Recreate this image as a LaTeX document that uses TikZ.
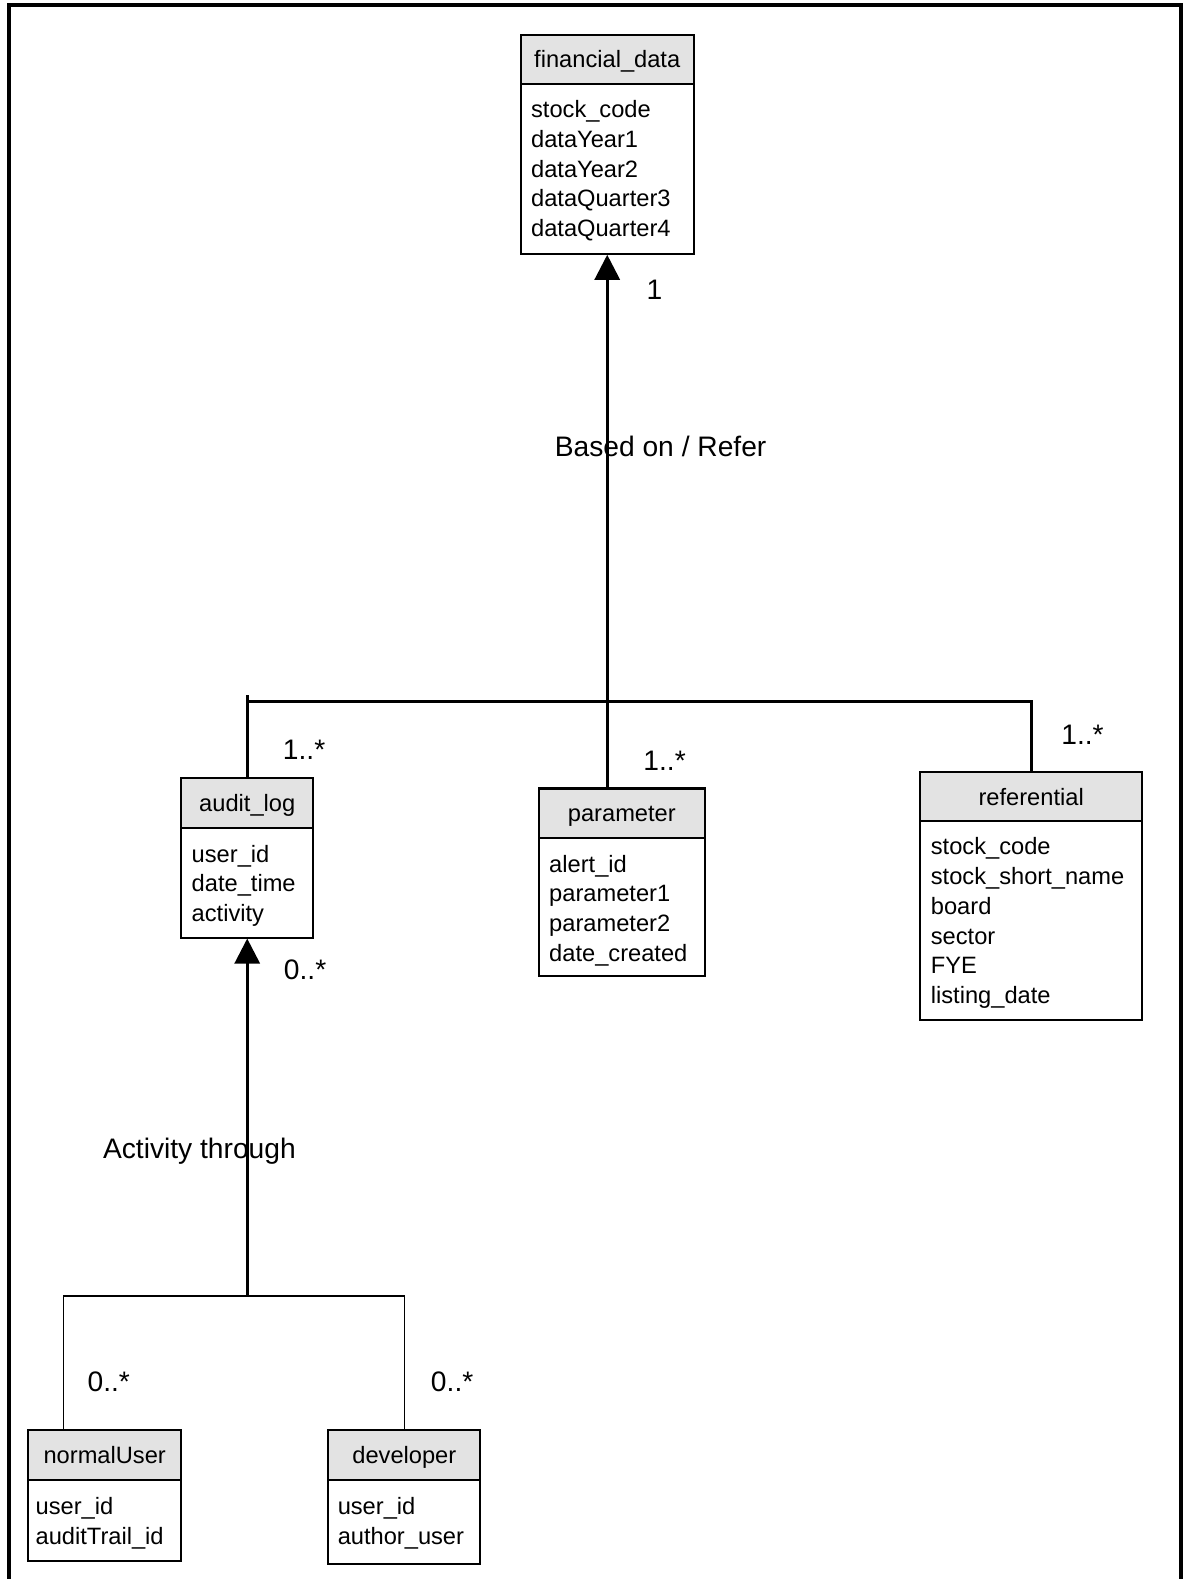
\documentclass[tikz,border=0pt]{standalone}
\usepackage{fontspec}
\setmainfont{Liberation Sans}
\usetikzlibrary{arrows.meta,fit,calc}
\newcommand{\umlclass}[9]{%
  \node[box, fit={(#2,#3) (#4,#5)}] (#1) {};
  \node[head, fit={(#2,#3) (#4,#6)}] (#1h) {};
  \node[cname] (#1t) at ($(#1h.center)+(0,8.5)$) {#7};
  \foreach \aname [count=\i from 0] in {#9} {
    \node[attr] (#1a\i) at (#8, {#6+34+29.5*\i}) {\aname};
  }
}
\begin{document}
\begin{tikzpicture}[x=0.5pt,y=-0.5pt,
  box/.style={draw, line width=1pt, inner sep=0pt},
  head/.style={draw, line width=1pt, inner sep=0pt, fill=gray!22},
  cname/.style={font=\fontsize{11.75}{14}\selectfont, anchor=base, inner sep=0pt},
  attr/.style={font=\fontsize{11.75}{14}\selectfont, anchor=base west, inner sep=0pt},
  lbl/.style={font=\fontsize{14}{16}\selectfont, anchor=base, inner sep=0pt},
  assoc/.style={line width=1.5pt},
  thinline/.style={line width=0.7pt},
  navi/.style={line width=1.5pt, -{Triangle[length=12.5pt,width=12.5pt]}},
]
\useasboundingbox (0,0) rectangle (1176,1568);
% frame
\draw[line width=1.8pt] (9,1575) -- (9,5) -- (1173,5) -- (1173,1575);

% classes
\umlclass{fin}{517}{35}{689}{252}{83}{financial\_data}{527}{stock\_code,dataYear1,dataYear2,dataQuarter3,dataQuarter4}
\umlclass{al}{180}{773}{311}{931}{822}{audit\_log}{190}{user\_id,date\_time,activity}
\umlclass{par}{535}{783}{700}{969}{832}{parameter}{545}{alert\_id,parameter1,parameter2,date\_created}
\umlclass{ref}{914}{767}{1134}{1013}{815}{referential}{924}{stock\_code,stock\_short\_name,board,sector,FYE,listing\_date}
\umlclass{nu}{28}{1420}{180}{1550}{1470}{normalUser}{35}{user\_id,auditTrail\_id}
\umlclass{dev}{326}{1420}{477}{1553}{1470}{developer}{335}{user\_id,author\_user}

% upper association
\coordinate (topj) at (245.5,697);
\draw[assoc] (al.north) -- ($(al.north |- topj)+(0,-7)$);
\draw[assoc] (al.north |- topj) -- (ref.north |- topj) -- (ref.north);
\draw[navi] (par.north -| fin.south) -- (fin.south);

% lower association
\coordinate (botj) at (245.5,1287);
\coordinate (nuj) at (63,1420);
\draw[navi] (botj) -- (al.south);
\draw[thinline] (nuj) -- (nuj |- botj) -- (dev.north |- botj) -- (dev.north);

% labels
\node[lbl] (m1) at (650,297) {1};
\node[lbl] (rel1) at (656,453) {Based on / Refer};
\node[lbl] (m2) at (302,754) {1..*};
\node[lbl] (m3) at (660,765) {1..*};
\node[lbl] (m4) at (1075,739) {1..*};
\node[lbl] (m5) at (303,973) {0..*};
\node[lbl] (rel2) at (198,1150) {Activity through};
\node[lbl] (m6) at (108,1382) {0..*};
\node[lbl] (m7) at (449,1382) {0..*};
\end{tikzpicture}
\end{document}
